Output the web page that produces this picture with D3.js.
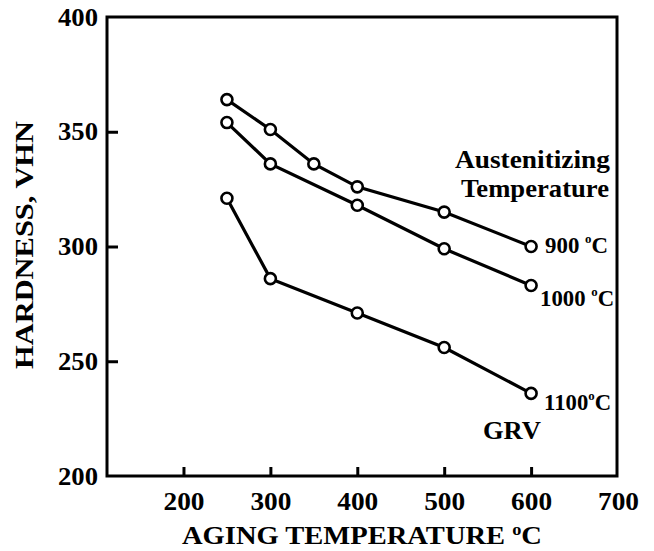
<!DOCTYPE html>
<html>
<head>
<meta charset="utf-8">
<script src="https://cdn.jsdelivr.net/npm/d3@7"></script>
<style>
  body { margin: 0; background: #fff; }
  text { font-family: "Liberation Serif", "Times New Roman", serif; font-weight: bold; fill: #000; }
</style>
</head>
<body>
<svg id="chart" width="654" height="551"></svg>
<script>
// ---- data ----
const temps900 = [250, 300, 350, 400, 500, 600];
const hard900  = [364, 351, 336, 326, 315, 300];
const temps1000 = [250, 300, 400, 500, 600];
const hard1000  = [354, 336, 318, 299, 283];
const temps1100 = [250, 300, 400, 500, 600];
const hard1100  = [321, 286, 271, 256, 236];
const xTicks = [200, 300, 400, 500, 600, 700];
const yTicks = [200, 250, 300, 350, 400];
const seriesNames = ["900", "1000", "1100"];

const svg = d3.select("#chart");
const x = d3.scaleLinear().domain([112, 700]).range([107, 618]);
const y = d3.scaleLinear().domain([200, 400]).range([476, 17]);

// axes
const gx = svg.append("g").attr("transform", `translate(0,${y(200)})`)
  .call(d3.axisBottom(x).tickValues(xTicks).tickSize(-9).tickPadding(16).tickFormat(d3.format("d")));
gx.select(".domain").remove();
gx.selectAll(".tick line").attr("stroke", "#000").attr("stroke-width", 3)
  .attr("display", d => d === 700 ? "none" : null);
gx.selectAll(".tick text").attr("font-size", 25).attr("font-family", "Liberation Serif")
  .attr("font-weight", "bold").attr("fill", "#000")
  .attr("textLength", 41).attr("lengthAdjust", "spacingAndGlyphs");

const gy = svg.append("g").attr("transform", `translate(${x(112)},0)`)
  .call(d3.axisLeft(y).tickValues(yTicks).tickSize(-11).tickPadding(9).tickFormat(d3.format("d")));
gy.select(".domain").remove();
gy.selectAll(".tick line").attr("stroke", "#000").attr("stroke-width", 3)
  .attr("display", d => (d === 200 || d === 400) ? "none" : null);
gy.selectAll(".tick text").attr("font-size", 25).attr("font-family", "Liberation Serif")
  .attr("font-weight", "bold").attr("fill", "#000")
  .attr("textLength", 40).attr("lengthAdjust", "spacingAndGlyphs");

// frame
svg.append("rect")
  .attr("x", x(112)).attr("y", y(400))
  .attr("width", x(700) - x(112) - 1).attr("height", y(200) - y(400))
  .attr("fill", "none").attr("stroke", "#000").attr("stroke-width", 3);

// series
const series = [
  { t: temps900, h: hard900 },
  { t: temps1000, h: hard1000 },
  { t: temps1100, h: hard1100 }
];
const line = d3.line().x(d => x(d[0])).y(d => y(d[1]));
series.forEach(s => {
  const pts = s.t.map((t, i) => [t, s.h[i]]);
  svg.append("path").datum(pts).attr("d", line)
    .attr("fill", "none").attr("stroke", "#000").attr("stroke-width", 3.2);
  svg.selectAll(null).data(pts).enter().append("circle")
    .attr("cx", d => x(d[0])).attr("cy", d => y(d[1])).attr("r", 5.5)
    .attr("fill", "#fff").attr("stroke", "#000").attr("stroke-width", 2.6);
});

// series labels (relative to last point of each series)
function degLabel(xp, yp, num, gap, len) {
  const t = svg.append("text").attr("x", xp).attr("y", yp).attr("font-size", 23)
    .attr("textLength", len).attr("lengthAdjust", "spacingAndGlyphs");
  t.append("tspan").text(num + gap);
  t.append("tspan").attr("font-size", 13).attr("dy", -10).text("o");
  t.append("tspan").attr("dy", 10).text("C");
}
degLabel(x(600) + 14, y(hard900[hard900.length - 1]) + 6, seriesNames[0], " ", 63);
degLabel(x(600) + 9, y(hard1000[hard1000.length - 1]) + 20, seriesNames[1], " ", 74);
degLabel(x(600) + 13, y(hard1100[hard1100.length - 1]) + 17, seriesNames[2], "", 67);

svg.append("text").attr("x", 483).attr("y", 439).attr("font-size", 26)
  .attr("textLength", 58).attr("lengthAdjust", "spacingAndGlyphs").text("GRV");

svg.append("text").attr("x", 610).attr("y", 168).attr("font-size", 25).attr("text-anchor", "end")
  .attr("textLength", 155).attr("lengthAdjust", "spacingAndGlyphs").text("Austenitizing");
svg.append("text").attr("x", 609).attr("y", 197).attr("font-size", 25).attr("text-anchor", "end")
  .attr("textLength", 148).attr("lengthAdjust", "spacingAndGlyphs").text("Temperature");

// axis titles
const xt = svg.append("text").attr("x", 182).attr("y", 544).attr("font-size", 25)
  .attr("textLength", 360).attr("lengthAdjust", "spacingAndGlyphs");
xt.append("tspan").text("AGING TEMPERATURE ");
xt.append("tspan").attr("font-size", 16).attr("dy", -9).text("o");
xt.append("tspan").attr("dy", 9).text("C");

svg.append("text").attr("transform", "translate(33,245) rotate(-90)")
  .attr("text-anchor", "middle").attr("font-size", 25)
  .attr("textLength", 248).attr("lengthAdjust", "spacingAndGlyphs")
  .text("HARDNESS, VHN");
</script>
</body>
</html>
